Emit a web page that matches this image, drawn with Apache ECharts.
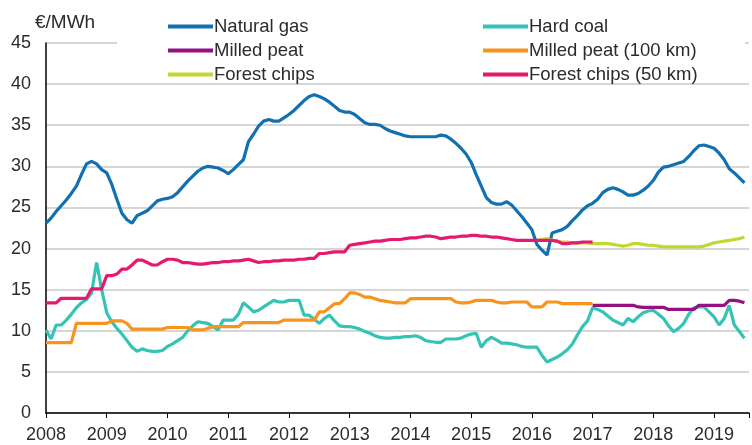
<!DOCTYPE html>
<html>
<head>
<meta charset="utf-8">
<script src="https://cdn.jsdelivr.net/npm/echarts@6/dist/echarts.min.js"></script>
<style>
  html, body { margin: 0; padding: 0; background: #fff; }
  #chart { width: 752px; height: 445px; }
</style>
</head>
<body>
<div id="chart"></div>
<script>
// monthly fuel prices, Jan 2008 onwards (€/MWh)
const startYear = 2008;
const yearTicks = [2008, 2009, 2010, 2011, 2012, 2013, 2014, 2015, 2016, 2017, 2018, 2019];

const naturalGas = [
  23.1, 23.7, 24.5, 25.2, 25.9, 26.7, 27.6, 29.0, 30.3, 30.6, 30.3, 29.6,
  29.2, 27.8, 26.0, 24.3, 23.5, 23.1, 24.0, 24.3, 24.6, 25.2, 25.8, 26.0,
  26.1, 26.3, 26.8, 27.5, 28.2, 28.8, 29.4, 29.8, 30.0, 29.9, 29.8, 29.5,
  29.1, 29.6, 30.2, 30.8, 33.0, 33.9, 34.9, 35.5, 35.7, 35.5, 35.5, 35.9,
  36.3, 36.8, 37.4, 38.0, 38.5, 38.7, 38.5, 38.2, 37.8, 37.3, 36.8, 36.6,
  36.6, 36.3, 35.8, 35.3, 35.1, 35.1, 35.0, 34.6, 34.3, 34.1, 33.9, 33.7,
  33.6, 33.6, 33.6, 33.6, 33.6, 33.6, 33.8, 33.7, 33.3, 32.8, 32.2, 31.5,
  30.5, 29.0, 27.6, 26.2, 25.6, 25.4, 25.4, 25.7, 25.3, 24.6, 23.9, 23.1,
  22.3, 20.5, 19.8, 19.2, 21.9, 22.1, 22.3, 22.7, 23.4, 24.0, 24.7, 25.2,
  25.5, 26.0, 26.8, 27.2, 27.4, 27.2, 26.9, 26.5, 26.5, 26.7, 27.1, 27.6,
  28.3, 29.3, 29.9, 30.0, 30.2, 30.4, 30.6, 31.2, 31.9, 32.5, 32.6, 32.4,
  32.2, 31.6, 30.8, 29.7, 29.2, 28.6, 28.0
];

const hardCoal = [
  10.1, 9.0, 10.7, 10.7, 11.3, 12.0, 12.8, 13.4, 13.8, 14.6, 18.3, 15.0,
  12.2, 11.1, 10.3, 9.6, 8.8, 8.0, 7.5, 7.8, 7.6, 7.5, 7.5, 7.6,
  8.1, 8.4, 8.8, 9.2, 10.0, 10.6, 11.1, 11.0, 10.9, 10.5, 10.1, 11.3,
  11.3, 11.3, 12.0, 13.4, 12.9, 12.3, 12.5, 12.9, 13.3, 13.7, 13.5, 13.5,
  13.7, 13.7, 13.7, 11.9, 11.9, 11.4, 10.9, 11.5, 11.9, 11.2, 10.6, 10.5,
  10.5, 10.4, 10.2, 9.9, 9.7, 9.4, 9.2, 9.1, 9.1, 9.2, 9.2, 9.3,
  9.3, 9.4, 9.2, 8.8, 8.7, 8.6, 8.6, 9.0, 9.0, 9.0, 9.1, 9.4,
  9.6, 9.7, 8.0, 8.8, 9.2, 8.9, 8.5, 8.5, 8.4, 8.3, 8.1, 8.0,
  8.0, 8.0, 7.0, 6.2, 6.5, 6.8, 7.2, 7.7, 8.4, 9.5, 10.5, 11.2,
  12.8, 12.6, 12.3, 11.8, 11.3, 11.0, 10.7, 11.5, 11.1, 11.7, 12.2, 12.4,
  12.5, 12.0, 11.5, 10.6, 9.9, 10.3, 10.9, 12.0, 12.8, 12.9, 12.9, 12.3,
  11.7, 10.7, 11.5, 13.1, 10.7, 9.9, 9.1
];

// milled peat series starts Jan 2017
const milledPeatStart = 108;
const milledPeat = [
  13.1, 13.1, 13.1, 13.1, 13.1, 13.1, 13.1, 13.1, 13.1, 12.9, 12.85, 12.85,
  12.85, 12.85, 12.85, 12.6, 12.6, 12.6, 12.6, 12.6, 12.6, 13.1, 13.1, 13.1,
  13.1, 13.1, 13.1, 13.7, 13.7, 13.6, 13.4
];

// ends Jan 2017
const milledPeat100 = [
  8.55, 8.55, 8.55, 8.55, 8.55, 8.55, 10.9, 10.9, 10.9, 10.9, 10.9, 10.9,
  10.9, 11.2, 11.2, 11.2, 10.9, 10.2, 10.2, 10.2, 10.2, 10.2, 10.2, 10.2,
  10.4, 10.4, 10.4, 10.4, 10.4, 10.1, 10.1, 10.1, 10.3, 10.5, 10.5, 10.5,
  10.5, 10.5, 10.5, 11.0, 11.0, 11.0, 11.0, 11.0, 11.0, 11.0, 11.0, 11.3,
  11.3, 11.3, 11.3, 11.3, 11.3, 11.3, 12.3, 12.3, 12.8, 13.3, 13.3, 13.9,
  14.6, 14.6, 14.4, 14.1, 14.1, 13.9, 13.7, 13.6, 13.5, 13.4, 13.4, 13.4,
  13.9, 13.9, 13.9, 13.9, 13.9, 13.9, 13.9, 13.9, 13.9, 13.5, 13.4, 13.4,
  13.5, 13.7, 13.7, 13.7, 13.7, 13.5, 13.4, 13.4, 13.5, 13.5, 13.5, 13.5,
  12.9, 12.9, 12.9, 13.5, 13.5, 13.5, 13.3, 13.3, 13.3, 13.3, 13.3, 13.3,
  13.3
];

// forest chips series starts Feb 2016
const forestChipsStart = 97;
const forestChips = [
  21.0, 21.1, 21.2, 21.0, 20.9, 20.8, 20.8, 20.7, 20.7, 20.7, 20.7,
  20.6, 20.6, 20.6, 20.6, 20.5, 20.4, 20.3, 20.4, 20.6, 20.6, 20.5, 20.4,
  20.4, 20.3, 20.2, 20.2, 20.2, 20.2, 20.2, 20.2, 20.2, 20.2, 20.3, 20.5,
  20.7, 20.8, 20.9, 21.0, 21.1, 21.2, 21.4
];

// ends Jan 2017
const forestChips50 = [
  13.4, 13.4, 13.4, 13.95, 13.95, 13.95, 13.95, 13.95, 13.95, 15.1, 15.1, 15.1,
  16.7, 16.7, 16.9, 17.5, 17.5, 18.0, 18.6, 18.6, 18.3, 18.0, 18.0, 18.4,
  18.7, 18.7, 18.6, 18.3, 18.3, 18.2, 18.1, 18.1, 18.2, 18.3, 18.3, 18.4,
  18.4, 18.5, 18.5, 18.6, 18.7, 18.5, 18.3, 18.4, 18.4, 18.5, 18.5, 18.6,
  18.6, 18.6, 18.7, 18.7, 18.8, 18.8, 19.4, 19.4, 19.5, 19.6, 19.6, 19.6,
  20.4, 20.5, 20.6, 20.7, 20.8, 20.9, 20.9, 21.0, 21.1, 21.1, 21.1, 21.2,
  21.3, 21.3, 21.4, 21.5, 21.5, 21.4, 21.2, 21.3, 21.4, 21.4, 21.5, 21.5,
  21.6, 21.6, 21.5, 21.5, 21.4, 21.4, 21.3, 21.2, 21.1, 21.0, 21.0, 21.0,
  21.0, 21.0, 21.0, 21.0, 21.0, 20.9, 20.6, 20.6, 20.7, 20.7, 20.8, 20.8,
  20.8
];

function toPoints(values, offset) {
  return values.map((v, i) => [startYear + (offset + i) / 12, v]);
}

function lineSeries(name, values, offset, color) {
  return {
    name: name,
    type: 'line',
    data: toPoints(values, offset || 0),
    symbol: 'none',
    smooth: false,
    lineStyle: { width: 3.2, color: color },
    itemStyle: { color: color },
    emphasis: { disabled: true }
  };
}

const font = 'Liberation Sans, Arial, sans-serif';
const textColor = '#2b2b2b';

const legendBase = {
  top: 12, orient: 'vertical',
  itemWidth: 45, itemHeight: 4, itemGap: 5, icon: 'rect',
  textStyle: { fontFamily: font, fontSize: 18.5, color: textColor, padding: [0, 0, 0, -4] }
};

const chart = echarts.init(document.getElementById('chart'));
chart.setOption({
  animation: false,
  title: {
    text: '€/MWh', left: 30, top: 8,
    textStyle: { fontFamily: font, fontSize: 19, fontWeight: 'normal', color: textColor }
  },
  graphic: [{
    // legend box hides the top gridline
    type: 'rect', left: 117, top: 8, z: 1,
    shape: { width: 628, height: 72 },
    style: { fill: '#fff' }
  }],
  legend: [
    Object.assign({}, legendBase, { left: 163, data: ['Natural gas', 'Milled peat', 'Forest chips'] }),
    Object.assign({}, legendBase, { left: 478, data: ['Hard coal', 'Milled peat (100 km)', 'Forest chips (50 km)'] })
  ],
  grid: { left: 46, right: 0, top: 43, bottom: 32, containLabel: false },
  xAxis: {
    type: 'value',
    min: yearTicks[0],
    max: 2019.575,
    interval: 1,
    axisLine: { lineStyle: { color: '#000', width: 1.5 } },
    axisTick: { show: true, length: 5, lineStyle: { color: '#000' } },
    splitLine: { show: false },
    axisLabel: {
      fontFamily: font, fontSize: 18, color: textColor, margin: 13,
      formatter: v => yearTicks.includes(v) ? String(v) : ''
    }
  },
  yAxis: {
    type: 'value',
    min: 0, max: 45, interval: 5,
    axisLine: { show: true, lineStyle: { color: '#000', width: 1.5 } },
    axisTick: { show: false },
    splitLine: { lineStyle: { color: '#c8c8c8', width: 1.5 } },
    axisLabel: { fontFamily: font, fontSize: 18, color: textColor, margin: 15 }
  },
  series: [
    lineSeries('Natural gas', naturalGas, 0, '#1270b0'),
    lineSeries('Hard coal', hardCoal, 0, '#35c3b5'),
    lineSeries('Milled peat', milledPeat, milledPeatStart, '#94117f'),
    lineSeries('Milled peat (100 km)', milledPeat100, 0, '#f7941d'),
    lineSeries('Forest chips', forestChips, forestChipsStart, '#c4d631'),
    lineSeries('Forest chips (50 km)', forestChips50, 0, '#e5196e')
  ]
});
</script>
</body>
</html>
